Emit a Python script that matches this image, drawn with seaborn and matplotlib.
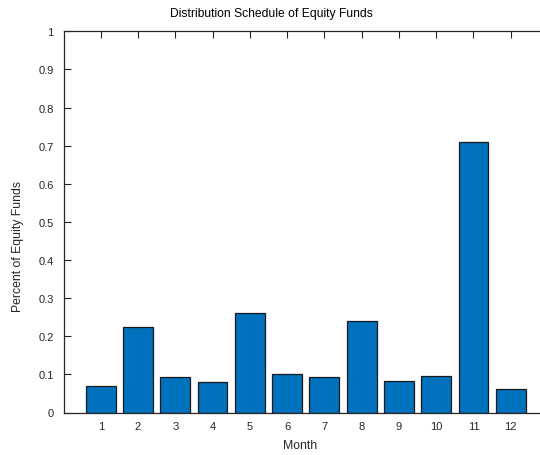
import matplotlib
matplotlib.use("Agg")
import matplotlib.pyplot as plt
import seaborn as sns
import pandas as pd

# Share of equity funds distributing in each month
months = [1, 2, 3, 4, 5, 6, 7, 8, 9, 10, 11, 12]
share = [0.070, 0.225, 0.093, 0.080, 0.262, 0.100, 0.093, 0.240, 0.082, 0.095, 0.710, 0.062]
y_ticks = [0, 0.1, 0.2, 0.3, 0.4, 0.5, 0.6, 0.7, 0.8, 0.9, 1.0]
y_tick_labels = ["0", "0.1", "0.2", "0.3", "0.4", "0.5", "0.6", "0.7", "0.8", "0.9", "1"]

sns.set_style("white")
plt.rcParams["font.family"] = ["Liberation Sans", "DejaVu Sans"]

df = pd.DataFrame({"Month": months, "Share": share})

W, H = 540, 456
fig = plt.figure(figsize=(W / 100, H / 100), dpi=100)
left_px, right_px, top_px, bottom_px = 63.5, 548, 32.3, 413.5
ax = fig.add_axes([left_px / W, 1 - bottom_px / H,
                   (right_px - left_px) / W, (bottom_px - top_px) / H])

sns.barplot(data=df, x="Month", y="Share", native_scale=True, width=0.8,
            color="#0072BD", saturation=1, edgecolor="#1a1a1a", linewidth=0.9,
            ax=ax)

ax.set_xlim(0, 13)
ax.set_ylim(0, 1)
ax.set_xticks(months)
ax.set_xticklabels([str(m) for m in months])
ax.set_yticks(y_ticks)
ax.set_yticklabels(y_tick_labels)

dark = "#262626"
for s in ax.spines.values():
    s.set_visible(True)
    s.set_color(dark)
    s.set_linewidth(0.9)

ax.tick_params(axis="both", which="both", direction="in", length=5, width=0.8,
               color=dark, labelcolor=dark, labelsize=8,
               top=True, right=True, bottom=True, left=True)
ax.tick_params(axis="x", pad=6)
ax.tick_params(axis="y", pad=7)

ax.set_xlabel("Month", fontsize=8.8, color=dark)
ax.set_ylabel("Percent of Equity Funds", fontsize=8.8, color=dark)
ax.xaxis.set_label_coords((300 - left_px) / (right_px - left_px), -(446 - bottom_px) / (bottom_px - top_px))
ax.yaxis.set_label_coords(-(left_px - 18.3) / (right_px - left_px), (bottom_px - 246.7) / (bottom_px - top_px))
ax.xaxis.label.set_verticalalignment("center")
ax.yaxis.label.set_verticalalignment("center")

fig.text(271 / W, 1 - 14 / H, "Distribution Schedule of Equity Funds",
         ha="center", va="center", fontsize=8.7, color="black")

fig.savefig("out.png", dpi=100)
